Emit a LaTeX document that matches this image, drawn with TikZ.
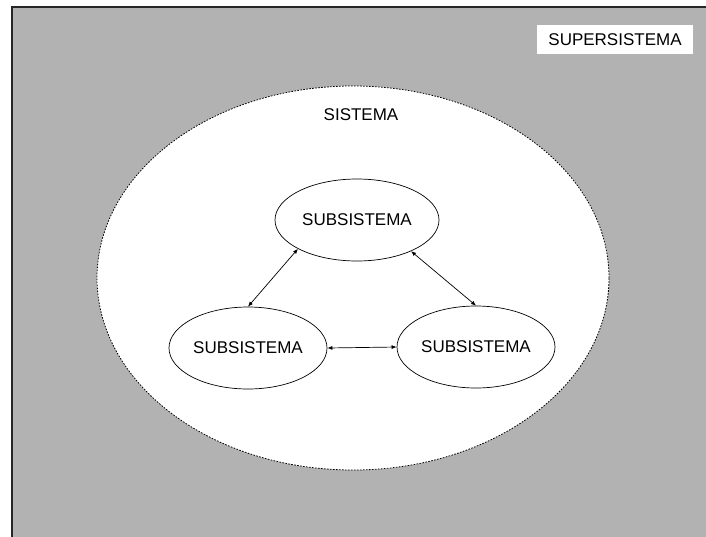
\documentclass[tikz,border=0pt]{standalone}
\usepackage{fontspec}
\setmainfont{Liberation Sans}
\usetikzlibrary{arrows.meta,shapes.geometric}
\begin{document}
\begin{tikzpicture}[x=1pt,y=-1pt,
  lbl/.style={font=\fontsize{17}{20}\selectfont, inner sep=0pt},
  subsys/.style={ellipse, draw, line width=0.7pt, fill=white,
    minimum width=#1, minimum height=82pt, inner sep=0pt,
    font=\fontsize{17}{20}\selectfont},
  link/.style={line width=0.7pt, {Latex[length=5pt,width=4pt]}-{Latex[length=5pt,width=4pt]}}]
  \useasboundingbox (0,0) rectangle (706,536);
  \clip (0,0) rectangle (706,536);
  % surrounding environment
  \path[fill=black!30, draw=black!85, line width=1.6pt]
    (11.8,6.8) rectangle (730,560);
  \node[lbl, fill=white, minimum width=156pt, minimum height=29pt]
    (super) at (615,39.5) {SUPERSISTEMA};
  % system boundary
  \node[ellipse, draw, fill=white, line width=0.8pt,
    dash pattern=on 1.6pt off 1.4pt,
    minimum width=512pt, minimum height=384pt, inner sep=0pt]
    (sys) at (353,278) {};
  \node[lbl] (syslabel) at (361,114.5) {SISTEMA};
  % subsystems
  \node[subsys=164pt] (top) at (357,220) {SUBSISTEMA};
  \node[subsys=158pt] (left) at (248,348) {SUBSISTEMA};
  \node[subsys=158pt] (right) at (476,347) {SUBSISTEMA};
  % interactions
  \draw[link] (top.206) -- (left.north);
  \draw[link] (top.330) -- (right.north);
  \draw[link] (left.east) -- (right.west);
\end{tikzpicture}
\end{document}
